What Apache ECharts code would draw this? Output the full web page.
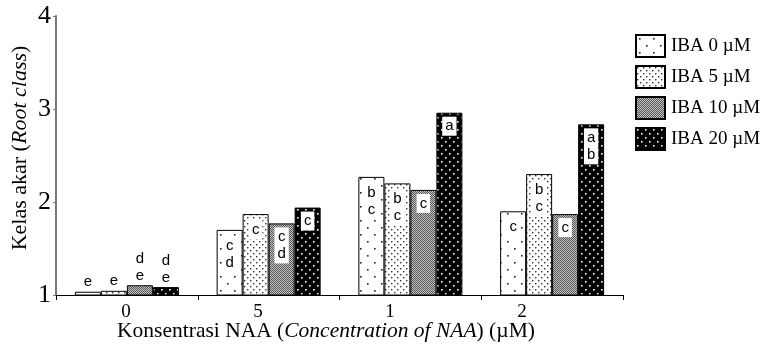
<!DOCTYPE html>
<html><head><meta charset="utf-8">
<script src="https://cdn.jsdelivr.net/npm/echarts@6/dist/echarts.min.js"></script>
<style>html,body{margin:0;padding:0;background:#fff}#c{width:767px;height:354px}</style>
</head><body><div id="c"></div>
<script>
const categories = ['0', '5', '1', '2'];
const seriesNames = ['IBA 0 \u00b5M', 'IBA 5 \u00b5M', 'IBA 10 \u00b5M', 'IBA 20 \u00b5M'];
const iba0 = [1.035, 1.70, 2.27, 1.90];
const iba5 = [1.045, 1.87, 2.20, 2.30];
const iba10 = [1.105, 1.77, 2.13, 1.87];
const iba20 = [1.085, 1.94, 2.96, 2.835];
const letters0 = ['e', 'c\nd', 'b\nc', 'c'];
const letters5 = ['e', 'c', 'b\nc', 'b\nc'];
const letters10 = ['d\ne', 'c\nd', 'c', 'c'];
const letters20 = ['d\ne', 'c', 'a', 'a\nb'];
const yTicks = [1, 2, 3, 4];

function tile(w, h, bg, fg, dots, ds) {
  const c = document.createElement('canvas');
  c.width = w; c.height = h;
  const g = c.getContext('2d');
  g.fillStyle = bg; g.fillRect(0, 0, w, h);
  g.fillStyle = fg;
  dots.forEach(d => g.fillRect(d[0], d[1], ds, ds));
  return {image: c, repeat: 'repeat'};
}
const pat0 = tile(14, 14, '#fff', '#222', [[3, 3], [10, 10]], 1.6);
const pat5 = tile(6, 6, '#fff', '#333', [[1, 1], [4, 4]], 1.4);
const pat10 = tile(2, 2, '#c4c4c4', '#555', [[0, 0], [1, 1]], 1);
const pat20 = tile(8, 8, '#000', '#fff', [[1, 1], [5, 5]], 1.6);
const patterns = [pat0, pat5, pat10, pat20];

const values = [iba0, iba5, iba10, iba20];
const letters = [letters0, letters5, letters10, letters20];

function labelFor(catIdx, sIdx) {
  const base = {
    show: true, fontFamily: 'Liberation Sans, Arial, sans-serif', fontSize: 15,
    lineHeight: 17, color: '#000'
  };
  if (catIdx === 0) {
    return Object.assign(base, {position: 'top', distance: 1});
  }
  return Object.assign(base, {
    position: 'insideTop', distance: (sIdx >= 2 ? 4 : 6),
    backgroundColor: '#fff', padding: [1, 3, 1, 3]
  });
}

const series = values.map((vals, s) => ({
  name: seriesNames[s],
  type: 'bar',
  barWidth: 26,
  barGap: '0%',
  itemStyle: {color: patterns[s], borderColor: '#000', borderWidth: 1},
  data: vals.map((v, i) => ({
    value: v,
    label: Object.assign(labelFor(i, s), {formatter: letters[s][i]})
  })),
  emphasis: {disabled: true}
}));

const serif = 'Liberation Serif, Times New Roman, serif';
const chart = echarts.init(document.getElementById('c'), null, {renderer: 'canvas'});
chart.setOption({
  animation: false,
  backgroundColor: '#fff',
  grid: [
    {left: 56, right: 144, top: 16, bottom: 59, containLabel: false},
    {left: 60, width: 528, top: 16, bottom: 59, containLabel: false}
  ],
  legend: {
    orient: 'vertical', left: 635, top: 34, itemWidth: 29, itemHeight: 22, itemGap: 7,
    padding: 0, icon: 'rect',
    textStyle: {fontFamily: serif, fontSize: 19, color: '#000', padding: [0, 0, 0, 1]},
    data: seriesNames
  },
  xAxis: [
    {
      type: 'category', data: categories, gridIndex: 0,
      axisLine: {lineStyle: {color: '#000', width: 1}},
      axisTick: {show: true, length: 5, lineStyle: {color: '#000'}},
      axisLabel: {show: false}
    },
    {
      type: 'category', data: categories, gridIndex: 1,
      axisLine: {show: false}, axisTick: {show: false},
      axisLabel: {fontFamily: serif, fontSize: 19, color: '#000', margin: 8}
    }
  ],
  yAxis: [
    {
      type: 'value', min: 1, max: 4, interval: 1, gridIndex: 0,
      axisLine: {show: true, lineStyle: {color: '#777', width: 2}},
      axisTick: {show: true, length: 3, lineStyle: {color: '#777', width: 1}},
      splitLine: {show: false},
      axisLabel: {fontFamily: serif, fontSize: 26, color: '#000', margin: 5}
    },
    {type: 'value', gridIndex: 1, show: false, min: 0, max: 1}
  ],
  series: series,
  graphic: [
    {
      type: 'text', x: 326, y: 331,
      style: {
        text: '{n|Konsentrasi NAA (}{i|Concentration of NAA}{n|) (\u00b5M)}',
        align: 'center', verticalAlign: 'middle',
        rich: {
          n: {fontFamily: serif, fontSize: 21.5, fill: '#000'},
          i: {fontFamily: serif, fontSize: 21.5, fontStyle: 'italic', fill: '#000'}
        }
      }
    },
    {
      type: 'text', x: 20, y: 148, rotation: Math.PI / 2,
      style: {
        text: '{n|Kelas akar (}{i|Root class}{n|)}',
        align: 'center', verticalAlign: 'middle',
        rich: {
          n: {fontFamily: serif, fontSize: 22, fill: '#000'},
          i: {fontFamily: serif, fontSize: 22, fontStyle: 'italic', fill: '#000'}
        }
      }
    }
  ]
});
</script></body></html>
